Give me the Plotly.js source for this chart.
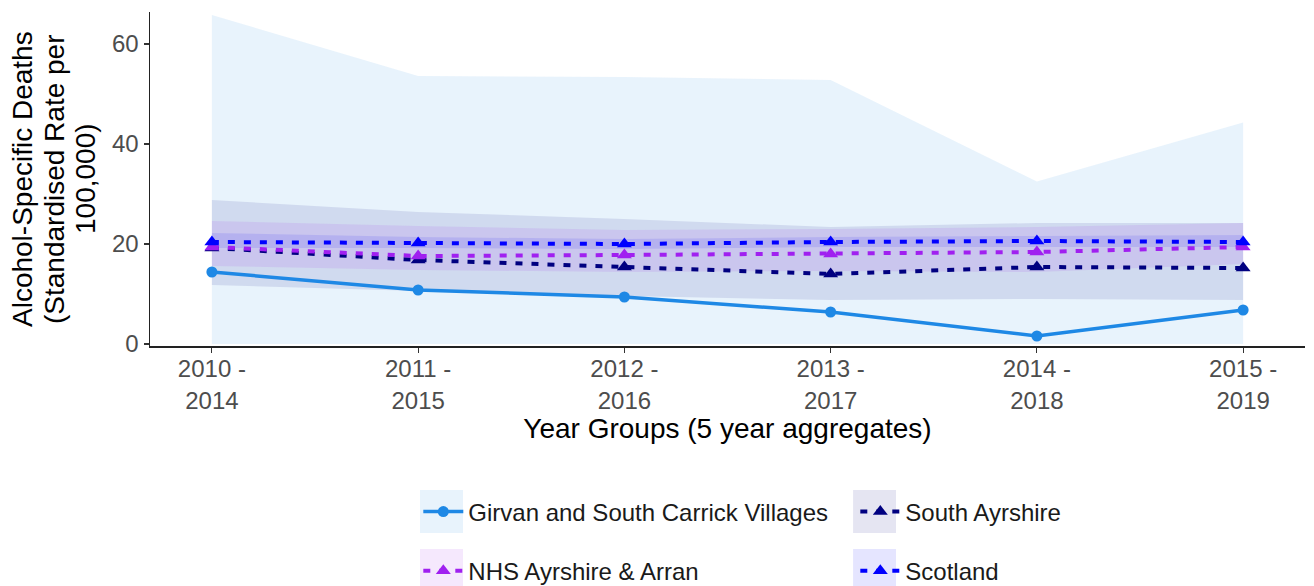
<!DOCTYPE html>
<html>
<head>
<meta charset="utf-8">
<script src="https://cdn.plot.ly/plotly-3.0.1.min.js"></script>
<style>html,body{margin:0;padding:0;background:#fff;}#chart{width:1314px;height:586px;}</style>
</head>
<body>
<div id="chart"></div>
<script>
// ---- data ----
const categories = ["2010 -<br>2014", "2011 -<br>2015", "2012 -<br>2016", "2013 -<br>2017", "2014 -<br>2018", "2015 -<br>2019"];

const girvan     = [14.4, 10.8, 9.4, 6.4, 1.6, 6.8];
const girvanLow  = [0, 0, 0, 0, 0, 0];
const girvanHigh = [65.8, 53.6, 53.4, 52.8, 32.5, 44.3];

const southAyr     = [19.2, 16.8, 15.4, 14.0, 15.4, 15.2];
const southAyrLow  = [11.8, 10.6, 9.6, 8.8, 9.0, 8.8];
const southAyrHigh = [28.8, 26.4, 25.0, 23.4, 24.2, 24.2];

const nhs     = [19.4, 17.6, 17.8, 18.0, 18.4, 19.4];
const nhsLow  = [15.6, 14.8, 14.4, 14.6, 14.4, 16.0];
const nhsHigh = [24.6, 23.6, 22.8, 23.0, 23.4, 24.2];

const scot     = [20.4, 20.2, 20.0, 20.4, 20.6, 20.4];
const scotLow  = [19.2, 19.2, 19.0, 19.4, 19.4, 19.4];
const scotHigh = [22.2, 21.4, 21.0, 21.4, 21.6, 21.8];

const seriesNames = ["Girvan and South Carrick Villages", "South Ayrshire", "NHS Ayrshire & Arran", "Scotland"];
const yTitleLines = ["Alcohol-Specific Deaths", "(Standardised Rate per", "100,000)"];
const xTitle = "Year Groups (5 year aggregates)";

// ---- styles ----
const FONT = "Liberation Sans, Arial, sans-serif";
const series = [
  {name: seriesNames[0], y: girvan, lo: girvanLow, hi: girvanHigh, color: "#1E88E5", fill: "rgba(30,136,229,0.1)", dash: "solid", symbol: "circle", size: 11, width: 3.5, legend: "legend"},
  {name: seriesNames[1], y: southAyr, lo: southAyrLow, hi: southAyrHigh, color: "#000080", fill: "rgba(0,0,128,0.1)", dash: "7px,9px", symbol: "triangle-up", size: 13, width: 4, legend: "legend"},
  {name: seriesNames[2], y: nhs, lo: nhsLow, hi: nhsHigh, color: "#A020F0", fill: "rgba(160,32,240,0.1)", dash: "7px,9px", symbol: "triangle-up", size: 13, width: 4, legend: "legend2"},
  {name: seriesNames[3], y: scot, lo: scotLow, hi: scotHigh, color: "#0000FF", fill: "rgba(0,0,255,0.1)", dash: "7px,9px", symbol: "triangle-up", size: 13, width: 4, legend: "legend2"}
];

const traces = [];
series.forEach(s => {
  traces.push({x: categories, y: s.lo, type: "scatter", mode: "lines", line: {width: 0, color: "rgba(0,0,0,0)"}, showlegend: false, hoverinfo: "skip"});
  traces.push({x: categories, y: s.hi, type: "scatter", mode: "lines", line: {width: 0, color: "rgba(0,0,0,0)"}, fill: "tonexty", fillcolor: s.fill, showlegend: false, hoverinfo: "skip"});
});
series.forEach(s => {
  traces.push({x: categories, y: s.y, name: s.name, type: "scatter", mode: "lines+markers",
    line: {color: s.color, width: s.width, dash: s.dash},
    marker: {color: s.color, symbol: s.symbol, size: s.size},
    legend: s.legend});
});

// legend key backgrounds (decoration, paper coordinates)
const keyBoxes = [
  {x0: 0.2338, x1: 0.271, y0: -0.431, y1: -0.560, fill: series[0].fill},
  {x0: 0.6087, x1: 0.6459, y0: -0.431, y1: -0.560, fill: series[1].fill},
  {x0: 0.2338, x1: 0.271, y0: -0.608, y1: -0.737, fill: series[2].fill},
  {x0: 0.6087, x1: 0.6459, y0: -0.608, y1: -0.737, fill: series[3].fill}
];
const shapes = keyBoxes.map(b => ({type: "rect", xref: "paper", yref: "paper", x0: b.x0, x1: b.x1, y0: b.y0, y1: b.y1,
  fillcolor: b.fill, line: {width: 0}, layer: "below"}));

// y-axis title, one annotation per line (tighter line spacing like the original)
const yTitleShift = [-128, -96, -65];
const annotations = yTitleLines.map((t, i) => ({text: t, xref: "paper", yref: "paper", x: 0, y: 0.5,
  xanchor: "center", yanchor: "middle", xshift: yTitleShift[i], textangle: -90, showarrow: false,
  font: {family: FONT, size: 28, color: "#000"}}));

const legendCommon = {orientation: "h", entrywidth: 382, entrywidthmode: "pixels", traceorder: "normal",
  font: {family: FONT, size: 24, color: "#1a1a1a"},
  xanchor: "left", yanchor: "middle", bgcolor: "rgba(0,0,0,0)", borderwidth: 0, itemwidth: 40};

const layout = {
  width: 1314, height: 586,
  margin: {l: 150, r: 9, t: 12, b: 240, autoexpand: false},
  paper_bgcolor: "#ffffff", plot_bgcolor: "#ffffff",
  font: {family: FONT},
  xaxis: {
    type: "category", range: [-0.3, 5.3], automargin: false,
    showgrid: false, zeroline: false, showline: true, linecolor: "#222", linewidth: 1.5,
    ticks: "outside", ticklen: 5, tickcolor: "#333", tickwidth: 1.2, ticklabelstandoff: -4,
    tickfont: {family: FONT, size: 24, color: "#4d4d4d"},
    title: {text: xTitle, font: {family: FONT, size: 28, color: "#000"}, standoff: 2}
  },
  yaxis: {
    range: [-0.4, 66.4], tickvals: [0, 20, 40, 60], ticktext: ["0", "20", "40", "60"], automargin: false,
    showgrid: false, zeroline: false, showline: true, linecolor: "#222", linewidth: 1.5,
    ticks: "outside", ticklen: 5, tickcolor: "#333", tickwidth: 1.2,
    tickfont: {family: FONT, size: 24, color: "#4d4d4d"}
  },
  shapes: shapes,
  annotations: annotations,
  legend: Object.assign({}, legendCommon, {x: 0.2323, y: -0.497}),
  legend2: Object.assign({}, legendCommon, {x: 0.2323, y: -0.674}),
  showlegend: true
};

Plotly.newPlot("chart", traces, layout, {displayModeBar: false, staticPlot: true});
</script>
</body>
</html>
